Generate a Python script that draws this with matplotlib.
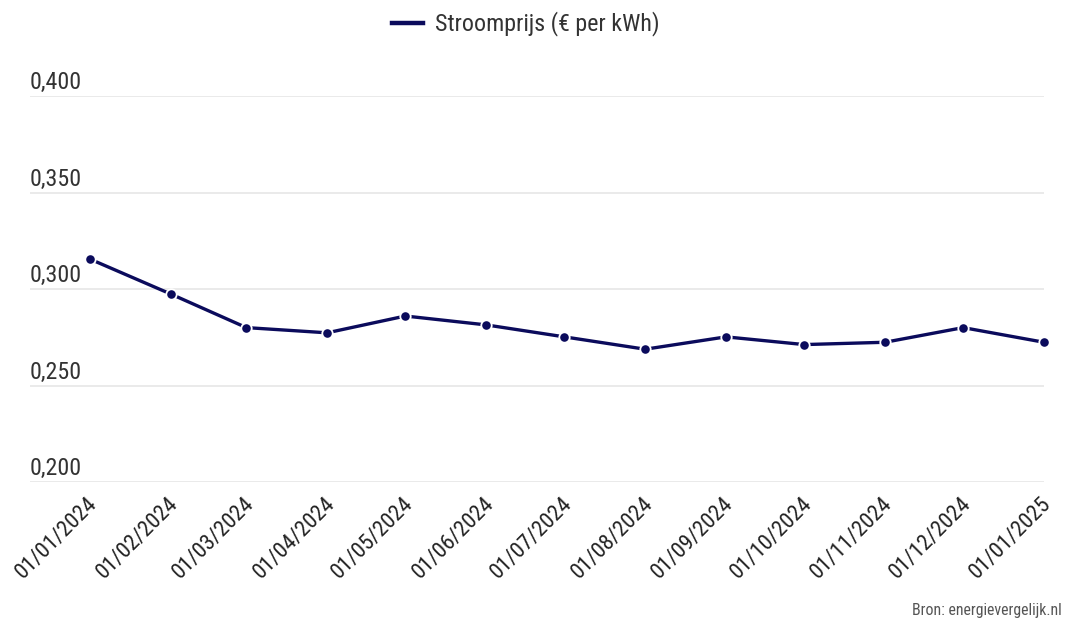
import matplotlib
matplotlib.use("Agg")
import matplotlib.pyplot as plt
import matplotlib.transforms as mtransforms
from matplotlib import font_manager
import datetime as dt

_names = {f.name for f in font_manager.fontManager.ttflist}
_fams = [n for n in ["Roboto Condensed", "Roboto"] if n in _names] + ["DejaVu Sans"]
plt.rcParams['font.family'] = _fams
condensed = "Roboto Condensed" in _names

dates = ["2024-01-01", "2024-02-01", "2024-03-01", "2024-04-01", "2024-05-01",
         "2024-06-01", "2024-07-01", "2024-08-01", "2024-09-01", "2024-10-01",
         "2024-11-01", "2024-12-01", "2025-01-01"]
prices = [0.3155, 0.2974, 0.2800, 0.2773, 0.2860, 0.2814, 0.2752, 0.2688,
          0.2752, 0.2712, 0.2724, 0.2800, 0.2724]
x_labels = ["01/01/2024", "01/02/2024", "01/03/2024", "01/04/2024", "01/05/2024",
            "01/06/2024", "01/07/2024", "01/08/2024", "01/09/2024", "01/10/2024",
            "01/11/2024", "01/12/2024", "01/01/2025"]
y_ticks = [0.200, 0.250, 0.300, 0.350, 0.400]
y_labels = ["0,200", "0,250", "0,300", "0,350", "0,400"]
series_name = "Stroomprijs (€ per kWh)"
source = "Bron: energievergelijk.nl"

xd = [dt.datetime.strptime(d, "%Y-%m-%d") for d in dates]

fig = plt.figure(figsize=(10.67, 6.19), dpi=100)
ax = fig.add_axes([30/1067, 1-482/619, (1044-30)/1067, (482-96)/619])

color = "#0b0b5c"
line, = ax.plot(xd, prices, color=color, lw=2.4, marker="o", ms=7.5,
                mfc=color, mec="white", mew=1.3, clip_on=False, zorder=3,
                label=series_name)

ax.set_ylim(0.2, 0.4)
ax.set_xlim(xd[0] - dt.timedelta(days=23), xd[-1])
ax.set_yticks(y_ticks)
ax.set_yticklabels([])
ax.tick_params(axis="y", length=0)
ax.grid(axis="y", color="#e6e6e6", lw=1.2)
ax.grid(axis="x", visible=False)
for s in ax.spines.values():
    s.set_visible(False)

yfs = 17.3 if condensed else 16
xfs = 16.2 if condensed else 14
lfs = 17.3 if condensed else 15.5
sfs = 11.4 if condensed else 10

trans = mtransforms.blended_transform_factory(ax.transAxes, ax.transData)
for v, lab in zip(y_ticks, y_labels):
    t = ax.text(0.0, v, lab, ha="left", va="baseline", fontsize=yfs, color="#333333")
    t.set_transform(trans + mtransforms.ScaledTranslation(0, 7/100, fig.dpi_scale_trans))

ax.set_xticks(xd)
ax.set_xticklabels(x_labels, rotation=45, ha="right", rotation_mode="anchor",
                   fontsize=xfs, color="#222222")
ax.tick_params(axis="x", length=0, pad=8)
for lbl in ax.get_xticklabels():
    lbl.set_transform(lbl.get_transform() +
                      mtransforms.ScaledTranslation(-3/100, 0, fig.dpi_scale_trans))

fig.legend(handles=[line], labels=[series_name], loc="center",
           bbox_to_anchor=(526/1067, 1-24/619), frameon=False, fontsize=lfs,
           handlelength=1.3, handletextpad=0.5, labelcolor="#333333")
leg = fig.legends[0]
for h in leg.legend_handles:
    h.set_marker("")
    h.set_linewidth(3.2)

fig.text(1062/1067, 1-610/619, source, ha="right", va="center",
         fontsize=sfs, color="#555555")

fig.savefig("out.png", dpi=100)
